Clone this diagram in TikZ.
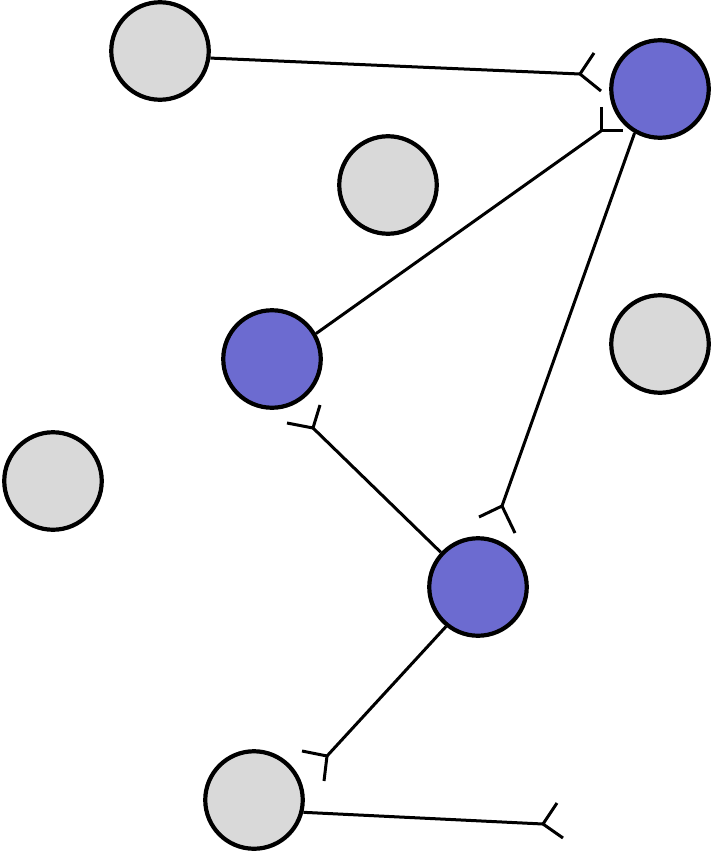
\documentclass[tikz,border=0pt]{standalone}
\definecolor{nodegray}{RGB}{217,217,217}
\definecolor{nodeblue}{RGB}{108,107,208}
\tikzset{
  ball/.style={circle, draw=black, line width=4.2pt, minimum size=97.5pt, inner sep=0pt},
  grayball/.style={ball, fill=nodegray},
  blueball/.style={ball, fill=nodeblue},
  link/.style={draw=black, line width=3pt},
  barb/.style={draw=black, line width=3pt}
}
\begin{document}
\begin{tikzpicture}[x=1pt,y=-1pt]
\useasboundingbox (0,0) rectangle (719,853);
% nodes
\node[grayball] (A) at (160,51) {};
\node[blueball] (B) at (660,89) {};
\node[grayball] (F) at (388,185) {};
\node[grayball] (G) at (660,344) {};
\node[blueball] (C) at (272,359) {};
\node[grayball] (H) at (53,481) {};
\node[blueball] (D) at (478,587) {};
\node[grayball] (E) at (254,800) {};
% fork apexes and barb ends
\coordinate (p1) at (580,74);  \coordinate (p1a) at (594,53);  \coordinate (p1b) at (601,91);
\coordinate (p2) at (601,131); \coordinate (p2a) at (601,107); \coordinate (p2b) at (623,131);
\coordinate (p3) at (502,506); \coordinate (p3a) at (479,517); \coordinate (p3b) at (515,533);
\coordinate (p4) at (313,428); \coordinate (p4a) at (320,405); \coordinate (p4b) at (287,423);
\coordinate (p5) at (327,756); \coordinate (p5a) at (302,751); \coordinate (p5b) at (324,781);
\coordinate (p6) at (543,824); \coordinate (p6a) at (557,803); \coordinate (p6b) at (563,838);
% connectors
\draw[link] (A.-8) -- (p1);
\draw[link] (C.30) -- (p2);
\draw[link] (B.-120) -- (p3);
\draw[link] (D.137) -- (p4);
\draw[link] (D.-129) -- (p5);
\draw[link] (E.-14) -- (p6);
% forks
\foreach \p in {p1,p2,p3,p4,p5,p6}{
  \draw[barb] (\p a) -- (\p) -- (\p b);
}
\end{tikzpicture}
\end{document}
